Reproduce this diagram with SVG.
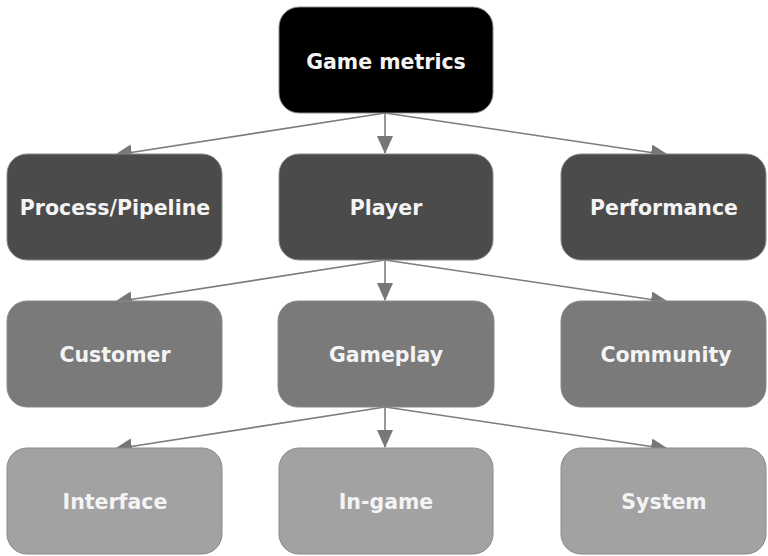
<svg xmlns="http://www.w3.org/2000/svg" width="768" height="556" viewBox="0 0 768 556">
<style>
.box{stroke:#8a8a8a;stroke-width:1}
.l0{fill:#000}
.l1{fill:#4b4b4b}
.l2{fill:#7a7a7a}
.l3{fill:#a2a2a2}
text{font-family:"DejaVu Sans",Verdana,sans-serif;font-weight:bold;font-size:20.5px;fill:#f4f4f4;text-anchor:middle}
.edge{stroke:#7d7d7d;stroke-width:1.6;fill:none;marker-end:url(#ah)}
</style>
<defs>
<marker id="ah" markerWidth="18" markerHeight="16" refX="17" refY="8" orient="auto" markerUnits="userSpaceOnUse">
<path d="M0,0 L18,8 L0,16 Z" fill="#777"/>
</marker>
</defs>
<rect width="768" height="556" fill="#fff"/>
<g id="connectors">
<line class="edge" x1="385" y1="113" x2="385" y2="153"/>
<line class="edge" x1="385" y1="113" x2="115" y2="155"/>
<line class="edge" x1="385" y1="113" x2="668" y2="155"/>
<line class="edge" x1="385" y1="260" x2="385" y2="300"/>
<line class="edge" x1="385" y1="260" x2="115" y2="302"/>
<line class="edge" x1="385" y1="260" x2="668" y2="302"/>
<line class="edge" x1="385" y1="407" x2="385" y2="447"/>
<line class="edge" x1="385" y1="407" x2="115" y2="449"/>
<line class="edge" x1="385" y1="407" x2="668" y2="449"/>
</g>
<g id="game-metrics"><rect class="box l0" x="279" y="7" width="214" height="106" rx="20"/><text x="386" y="69">Game metrics</text></g>
<g id="process-pipeline"><rect class="box l1" x="7" y="154" width="215" height="106" rx="20"/><text x="115" y="215">Process/Pipeline</text></g>
<g id="player"><rect class="box l1" x="279" y="154" width="214" height="106" rx="20"/><text x="386" y="215">Player</text></g>
<g id="performance"><rect class="box l1" x="561" y="154" width="205" height="106" rx="20"/><text x="664" y="215">Performance</text></g>
<g id="customer"><rect class="box l2" x="7" y="301" width="215" height="106" rx="20"/><text x="115" y="362">Customer</text></g>
<g id="gameplay"><rect class="box l2" x="278" y="301" width="216" height="106" rx="20"/><text x="386" y="362">Gameplay</text></g>
<g id="community"><rect class="box l2" x="561" y="301" width="205" height="106" rx="20"/><text x="666" y="362">Community</text></g>
<g id="interface"><rect class="box l3" x="7" y="448" width="215" height="106" rx="20"/><text x="115" y="509">Interface</text></g>
<g id="in-game"><rect class="box l3" x="279" y="448" width="214" height="106" rx="20"/><text x="386" y="509">In-game</text></g>
<g id="system"><rect class="box l3" x="561" y="448" width="205" height="106" rx="20"/><text x="664" y="509">System</text></g>
</svg>
